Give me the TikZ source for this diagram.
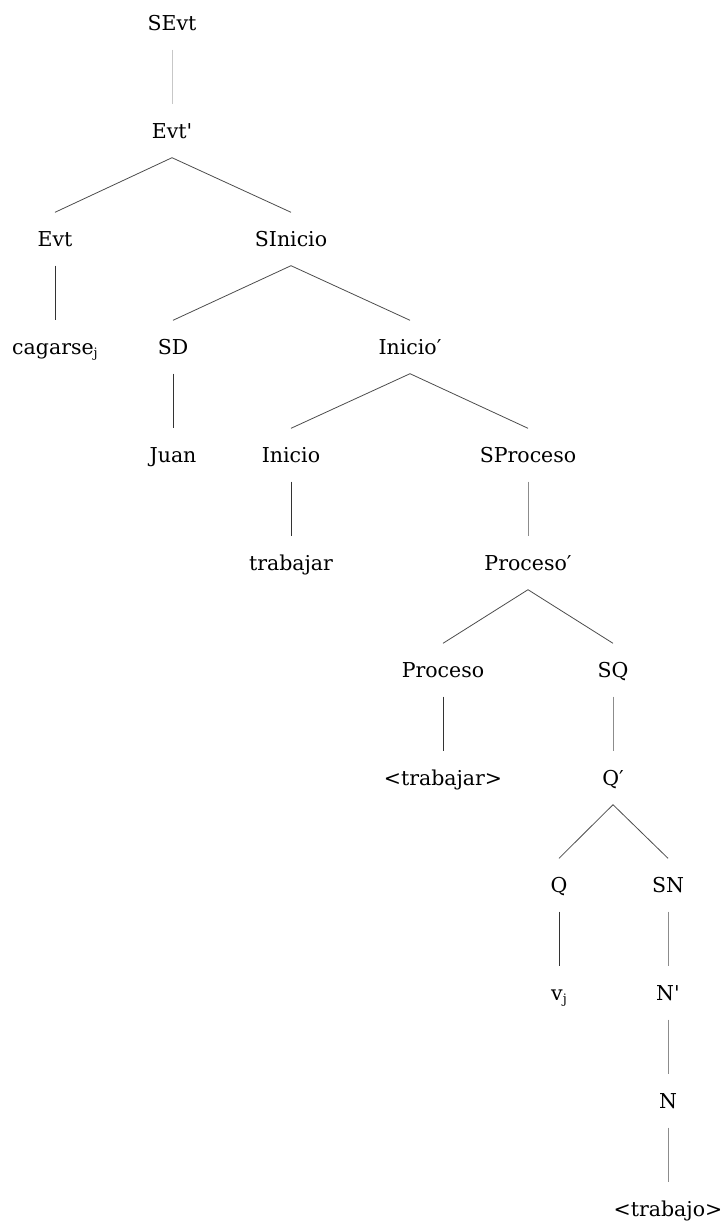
\documentclass[tikz,border=0pt]{standalone}
\usepackage{fontspec}
\setmainfont{DejaVu Serif}
\begin{document}
\begin{tikzpicture}[x=1pt,y=-1pt,
  lab/.style={font=\fontsize{20.5}{20.5}\selectfont, text height=15pt, text depth=0pt,
              inner xsep=0pt, inner ysep=19pt, anchor=center},
  edge/.style={line width=0.8pt, draw=black!80},
  softedge/.style={line width=0.8pt, draw=black!45},
  faintedge/.style={line width=0.8pt, draw=black!22},
  slant/.style={line width=0.8pt, draw=black!70}]
\useasboundingbox (0,0) rectangle (722,1222);
\newcommand{\subj}{\raisebox{-3pt}{\fontsize{13}{13}\selectfont j}}
\newcommand{\barmark}{\textquotesingle}
% levels of the tree
\node[lab] (sevt)    at (172,23)   {SEvt};
\node[lab] (evtb)    at (172,131)  {Evt\barmark};
\node[lab] (evt)     at (55,239)   {Evt};
\node[lab] (sini)    at (291,239)  {SInicio};
\node[lab] (cag)     at (55,347)   {cagarse\subj};
\node[lab] (sd)      at (173,347)  {SD};
\node[lab] (inib)    at (410,347)  {Inicio′};
\node[lab] (juan)    at (173,455)  {Juan};
\node[lab] (ini)     at (291,455)  {Inicio};
\node[lab] (spro)    at (528,455)  {SProceso};
\node[lab] (trab)    at (291,563)  {trabajar};
\node[lab] (prob)    at (528,563)  {Proceso′};
\node[lab] (pro)     at (443,670)  {Proceso};
\node[lab] (sq)      at (613,670)  {SQ};
\node[lab] (trabt)   at (443,778)  {<trabajar>};
\node[lab] (qb)      at (613,778)  {Q′};
\node[lab] (q)       at (559,885)  {Q};
\node[lab] (sn)      at (668,885)  {SN};
\node[lab] (vj)      at (559,993)  {v\subj};
\node[lab] (nb)      at (668,993)  {N\barmark};
\node[lab] (n)       at (668,1101) {N};
\node[lab] (trabo)   at (668,1209) {<trabajo>};
% branches
\draw[faintedge] (sevt.south) -- (evtb.north);
\draw[slant] (evtb.south) -- (evt.north);
\draw[slant] (evtb.south) -- (sini.north);
\draw[edge] (evt.south) -- (cag.north);
\draw[slant] (sini.south) -- (sd.north);
\draw[slant] (sini.south) -- (inib.north);
\draw[edge] (sd.south) -- (juan.north);
\draw[slant] (inib.south) -- (ini.north);
\draw[slant] (inib.south) -- (spro.north);
\draw[edge] (ini.south) -- (trab.north);
\draw[softedge] (spro.south) -- (prob.north);
\draw[slant] (prob.south) -- (pro.north);
\draw[slant] (prob.south) -- (sq.north);
\draw[edge] (pro.south) -- (trabt.north);
\draw[softedge] (sq.south) -- (qb.north);
\draw[slant] (qb.south) -- (q.north);
\draw[slant] (qb.south) -- (sn.north);
\draw[edge] (q.south) -- (vj.north);
\draw[softedge] (sn.south) -- (nb.north);
\draw[softedge] (nb.south) -- (n.north);
\draw[softedge] (n.south) -- (trabo.north);
\end{tikzpicture}
\end{document}
